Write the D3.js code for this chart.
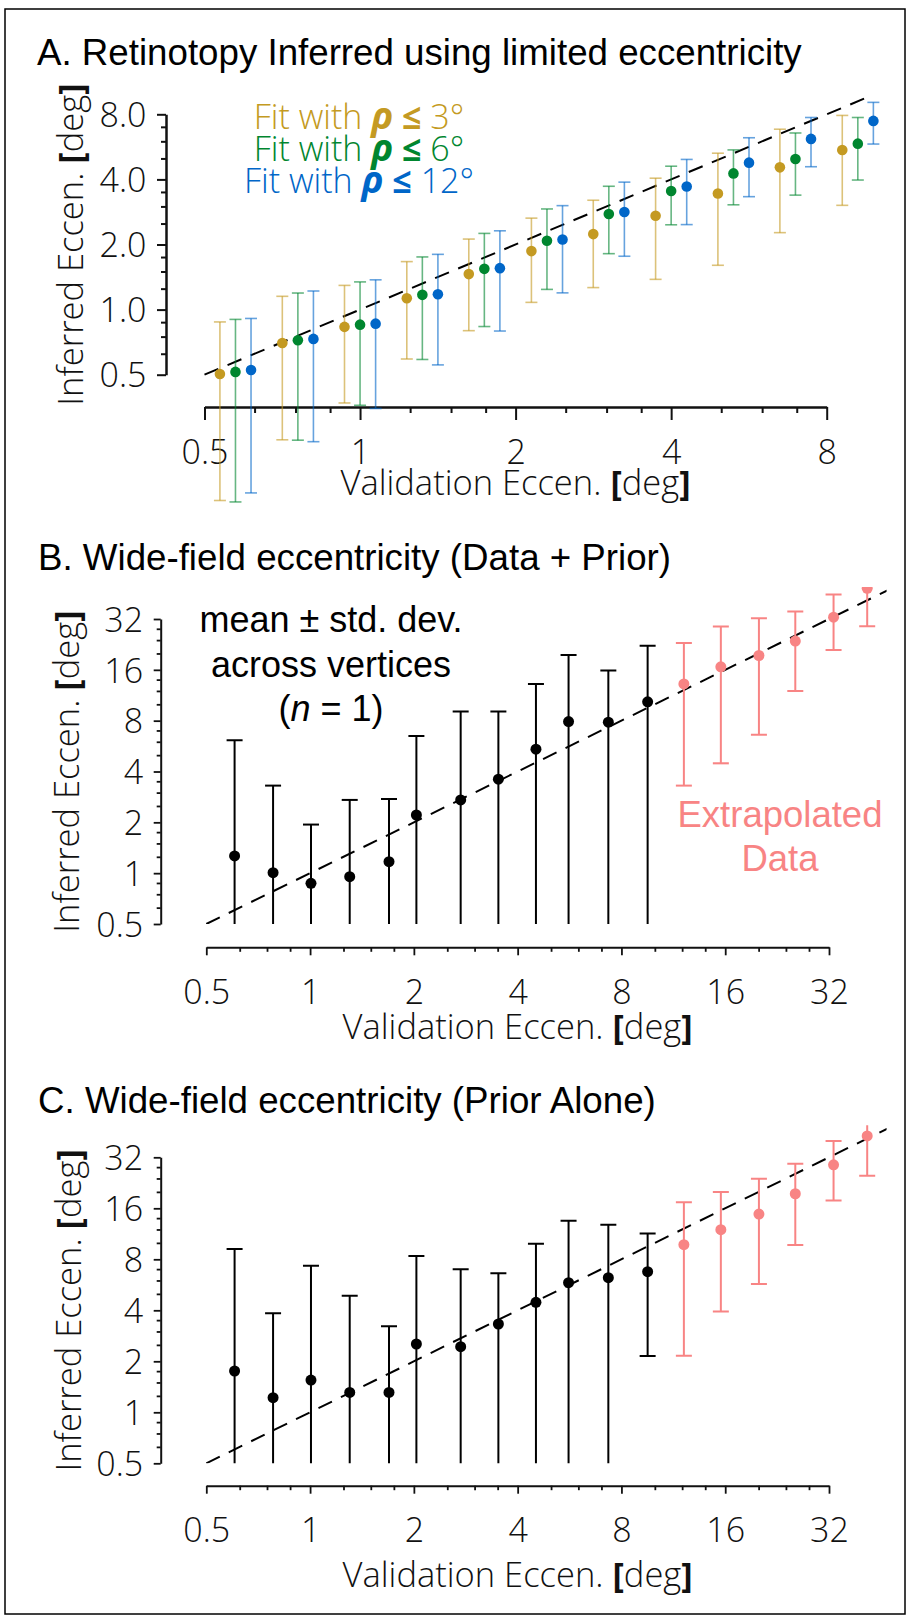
<!DOCTYPE html>
<html>
<head>
<meta charset="utf-8">
<script src="https://cdn.jsdelivr.net/npm/d3@7"></script>
<style>
  body { margin: 0; background: #fff; }
  svg { display: block; }
  .light { font-family: "Open Sans", Roboto, "Liberation Sans", Arial, sans-serif; font-weight: 300; }
  .reg { font-family: "Liberation Sans", Arial, Helvetica, sans-serif; font-weight: 400; }
</style>
</head>
<body>
<svg id="fig" width="908" height="1616"></svg>
<script>
// ---------- Panel A: fits restricted to limited eccentricity ----------
const fitLimits = ["3°", "6°", "12°"];
const fitColors = ["#C49A22", "#00862F", "#0066C8"];
// validation eccentricity of each bin [deg]
const binEcc = [0.574, 0.758, 1.00, 1.32, 1.74, 2.30, 3.03, 4.00, 5.28, 6.96, 9.19];
// mean and std. dev. of inferred eccentricity for each fit
const fit3Mean  = [0.504, 0.701, 0.832, 1.129, 1.459, 1.864, 2.234, 2.716, 3.445, 4.547, 5.470];
const fit3Sd    = [0.373, 0.451, 0.462, 0.538, 0.660, 0.784, 0.970, 1.336, 1.842, 2.278, 2.435];
const fit6Mean  = [0.515, 0.721, 0.852, 1.170, 1.543, 2.080, 2.766, 3.535, 4.264, 4.970, 5.853];
const fit6Sd    = [0.386, 0.472, 0.491, 0.582, 0.708, 0.840, 0.952, 1.068, 1.212, 1.587, 1.880];
const fit12Mean = [0.526, 0.732, 0.861, 1.178, 1.555, 2.110, 2.825, 3.710, 4.780, 6.155, 7.456];
const fit12Sd   = [0.384, 0.487, 0.512, 0.623, 0.759, 0.915, 1.060, 1.238, 1.452, 1.577, 1.628];
const ticksA = [0.5, 1, 2, 4, 8];
const xTickLabelsA = ["0.5", "1", "2", "4", "8"];
const yTickLabelsA = ["0.5", "1.0", "2.0", "4.0", "8.0"];

// ---------- Panels B and C: wide-field eccentricity ----------
const wideEcc = [0.604, 0.781, 1.006, 1.303, 1.694, 2.034, 2.734, 3.517, 4.52, 5.62,
                 7.33, 9.53, 12.14, 15.54, 20.04, 25.55, 32.99, 41.3];
const measuredBins = 12; // bins beyond this are extrapolated
const dataPriorMean = [1.265, 1.007, 0.871, 0.953, 1.170, 2.210, 2.715, 3.600, 5.42, 7.90,
                       7.84, 10.34, 13.2, 16.67, 19.45, 23.7, 32.8, 48.6];
const dataPriorSd   = [4.865, 2.293, 1.069, 1.762, 1.580, 4.290, 6.345, 5.460, 7.78, 11.7,
                       8.01, 11.86, 9.9, 12.2, 12.85, 11.7, 11.85, 19.6];
const priorMean     = [1.753, 1.220, 1.550, 1.310, 1.310, 2.530, 2.440, 3.320, 4.46, 5.82,
                       6.23, 6.76, 9.76, 11.96, 14.8, 19.5, 28.9, 42.8];
const priorSd       = [7.45, 2.62, 5.78, 3.57, 1.91, 5.84, 4.54, 3.29, 5.43, 7.68,
                       6.57, 4.61, 7.6, 8.02, 9.09, 9.8, 11.1, 17.9];
const ticksWide = [0.5, 1, 2, 4, 8, 16, 32];
const tickLabelsWide = ["0.5", "1", "2", "4", "8", "16", "32"];
const measuredColor = "#000000";
const extrapColor = "#F88484";

const svg = d3.select("#fig");

// outer frame
svg.append("rect").attr("x", 5).attr("y", 9).attr("width", 900).attr("height", 1605)
  .attr("fill", "none").attr("stroke", "#000").attr("stroke-width", 1.5);

// minor ticks at 1.25, 1.5, 1.75 of each octave
function minorTicks(majors) {
  const out = [];
  for (let i = 0; i < majors.length - 1; i++) {
    const a = majors[i];
    out.push(a * 1.25, a * 1.5, a * 1.75);
  }
  return out;
}

function drawAxes(g, x, y, o) {
  // x axis
  const gx = g.append("g").attr("transform", `translate(0,${o.xAxisY})`)
    .call(d3.axisBottom(x).tickValues(o.xTicks).tickFormat((d, i) => o.xLabels[i])
      .tickSize(o.xMajor).tickSizeOuter(0));
  gx.select(".domain").attr("stroke-width", o.axisW);
  gx.selectAll(".tick line").attr("stroke-width", o.tickW);
  gx.selectAll(".tick text").attr("class", "light").attr("font-size", o.fs)
    .attr("fill", "#111").attr("y", o.xLabelDy).attr("dy", 0);
  g.append("g").attr("transform", `translate(0,${o.xAxisY})`)
    .call(d3.axisBottom(x).tickValues(minorTicks(o.xTicks)).tickFormat("")
      .tickSize(o.xMinor).tickSizeOuter(0))
    .call(s => s.select(".domain").remove())
    .call(s => s.selectAll(".tick line").attr("stroke-width", o.tickW));
  // y axis
  const gy = g.append("g").attr("transform", `translate(${o.yAxisX},0)`)
    .call(d3.axisLeft(y).tickValues(o.yTicks).tickFormat((d, i) => o.yLabels[i])
      .tickSize(o.yMajor).tickSizeOuter(0));
  gy.select(".domain").attr("stroke-width", o.axisW);
  gy.selectAll(".tick line").attr("stroke-width", o.tickW);
  gy.selectAll(".tick text").attr("class", "light").attr("font-size", o.fs)
    .attr("fill", "#111").attr("x", -o.yLabelDx).attr("dy", "0.36em");
  g.append("g").attr("transform", `translate(${o.yAxisX},0)`)
    .call(d3.axisLeft(y).tickValues(minorTicks(o.yTicks)).tickFormat("")
      .tickSize(o.yMinor).tickSizeOuter(0))
    .call(s => s.select(".domain").remove())
    .call(s => s.selectAll(".tick line").attr("stroke-width", o.tickW));
  g.selectAll(".domain, .tick line").attr("stroke", "#111");

  // axis titles with bold brackets
  const xt = g.append("text").attr("class", "light").attr("font-size", o.titleFs)
    .attr("text-anchor", "middle").attr("fill", "#111")
    .attr("x", (x.range()[0] + x.range()[1]) / 2).attr("y", o.xTitleY);
  addTitle(xt, "Validation Eccen. ");
  const yt = g.append("text").attr("class", "light").attr("font-size", o.titleFs)
    .attr("text-anchor", "middle").attr("fill", "#111")
    .attr("transform", `translate(${o.yTitleX},${(y.range()[0] + y.range()[1]) / 2}) rotate(-90)`);
  addTitle(yt, "Inferred Eccen. ");
}

function addTitle(t, main) {
  t.append("tspan").text(main);
  t.append("tspan").attr("font-weight", 700).text("[");
  t.append("tspan").text("deg");
  t.append("tspan").attr("font-weight", 700).text("]");
}

function panelTitle(text, x, y) {
  svg.append("text").attr("class", "reg").attr("font-size", 36.7).attr("fill", "#000")
    .attr("x", x).attr("y", y).text(text);
}

function identityLine(g, x, y, lo, hi) {
  g.append("line")
    .attr("x1", x(lo)).attr("y1", y(lo)).attr("x2", x(hi)).attr("y2", y(hi))
    .attr("stroke", "#000").attr("stroke-width", 2).attr("stroke-dasharray", "15,10");
}

// ================= Panel A =================
panelTitle("A. Retinotopy Inferred using limited eccentricity", 37, 65);
const xA = d3.scaleLog().domain([0.5, 8]).range([204.5, 826.7]);
const yA = d3.scaleLog().domain([0.5, 8]).range([374.7, 114.3]);
const gA = svg.append("g");
drawAxes(gA, xA, yA, {
  xAxisY: 407, yAxisX: 166, xTicks: ticksA, yTicks: ticksA,
  xLabels: xTickLabelsA, yLabels: yTickLabelsA,
  xMajor: 13, xMinor: 6, yMajor: 9, yMinor: 5, axisW: 2.5, tickW: 2,
  fs: 34, titleFs: 34.5, xLabelDy: 57, yLabelDx: 19.5, xTitleY: 495, yTitleX: 83
});
identityLine(gA, xA, yA, 0.5, 9.55);

const dodge = (xA(1) - xA(0.5)) * 0.1;
const fits = [
  { mean: fit3Mean, sd: fit3Sd },
  { mean: fit6Mean, sd: fit6Sd },
  { mean: fit12Mean, sd: fit12Sd }
];
fits.forEach((f, k) => {
  const col = fitColors[k];
  const off = (k - 1) * dodge;
  const rows = binEcc.map((e, i) => ({ e, m: f.mean[i], s: f.sd[i] }));
  const gb = gA.append("g").attr("stroke", col).attr("stroke-width", 1.6).attr("stroke-opacity", 0.6);
  rows.forEach(r => {
    const cx = xA(r.e) + off;
    const top = yA(r.m + r.s), bot = yA(r.m - r.s);
    gb.append("line").attr("x1", cx).attr("x2", cx).attr("y1", top).attr("y2", bot);
    gb.append("line").attr("x1", cx - 6).attr("x2", cx + 6).attr("y1", top).attr("y2", top);
    gb.append("line").attr("x1", cx - 6).attr("x2", cx + 6).attr("y1", bot).attr("y2", bot);
  });
  gA.append("g").selectAll("circle").data(rows).join("circle")
    .attr("cx", r => xA(r.e) + off).attr("cy", r => yA(r.m)).attr("r", 5.3).attr("fill", col);
});

// legend
const legendY = [128.5, 160.5, 193];
fitLimits.forEach((lim, k) => {
  const t = gA.append("text").attr("class", "light").attr("font-size", 34)
    .attr("text-anchor", "middle").attr("fill", fitColors[k]).attr("x", 359).attr("y", legendY[k]);
  t.append("tspan").text("Fit with ");
  t.append("tspan").attr("font-weight", 700).attr("font-style", "italic").attr("font-size", 37).text("ρ");
  t.append("tspan").attr("font-weight", 700).text(" ≤");
  t.append("tspan").text(" " + lim);
});

// ================= Panels B and C =================
function widePanel(title, titleY, yRange, xAxisY, yTitleX, means, sds, xTitleY, clipId) {
  panelTitle(title, 38, titleY);
  const x = d3.scaleLog().domain([0.5, 32]).range([206.3, 829]);
  const y = d3.scaleLog().domain([0.5, 32]).range(yRange);
  const g = svg.append("g");
  drawAxes(g, x, y, {
    xAxisY, yAxisX: 160.7, xTicks: ticksWide, yTicks: ticksWide,
    xLabels: tickLabelsWide, yLabels: tickLabelsWide,
    xMajor: 8, xMinor: 4.5, yMajor: 7, yMinor: 4, axisW: 2, tickW: 1.8,
    fs: 34, titleFs: 34.5, xLabelDy: 56.5, yLabelDx: 17.5, xTitleY, yTitleX
  });
  // plotting area: data clipped to [0.5, ~48] deg
  svg.append("clipPath").attr("id", clipId).append("rect")
    .attr("x", x(0.5) - 20).attr("y", y(49.5))
    .attr("width", x(47) - x(0.5) + 20).attr("height", y(0.5) - y(49.5));
  const gp = g.append("g").attr("clip-path", `url(#${clipId})`);
  identityLine(gp, x, y, 0.5, 60);
  const rows = wideEcc.map((e, i) => ({
    e, m: means[i], s: sds[i], col: i < measuredBins ? measuredColor : extrapColor
  }));
  rows.forEach(r => {
    const cx = x(r.e);
    const top = y(r.m + r.s);
    const bot = y(Math.max(r.m - r.s, 0.2));
    const gb = gp.append("g").attr("stroke", r.col).attr("stroke-width", 2);
    gb.append("line").attr("x1", cx).attr("x2", cx).attr("y1", top).attr("y2", bot);
    gb.append("line").attr("x1", cx - 8).attr("x2", cx + 8).attr("y1", top).attr("y2", top);
    gb.append("line").attr("x1", cx - 8).attr("x2", cx + 8).attr("y1", bot).attr("y2", bot);
  });
  gp.append("g").selectAll("circle").data(rows).join("circle")
    .attr("cx", r => x(r.e)).attr("cy", r => y(r.m)).attr("r", 5.5).attr("fill", r => r.col);
  return g;
}

const gB = widePanel("B. Wide-field eccentricity (Data + Prior)", 570, [924, 619], 947.3, 79,
  dataPriorMean, dataPriorSd, 1039, "clipB");

// annotation for panel B
const note = gB.append("text").attr("class", "reg").attr("font-size", 36).attr("fill", "#000")
  .attr("text-anchor", "middle");
note.append("tspan").attr("x", 331).attr("y", 631.5).text("mean ± std. dev.");
note.append("tspan").attr("x", 331).attr("y", 676.5).text("across vertices");
const l3 = note.append("tspan").attr("x", 331).attr("y", 721);
l3.text("(");
note.append("tspan").attr("font-style", "italic").text("n");
note.append("tspan").text(" = 1)");

const ex = gB.append("text").attr("class", "reg").attr("font-size", 36.5).attr("fill", extrapColor)
  .attr("text-anchor", "middle");
ex.append("tspan").attr("x", 780).attr("y", 826.5).text("Extrapolated");
ex.append("tspan").attr("x", 780).attr("y", 870.5).text("Data");

widePanel("C. Wide-field eccentricity (Prior Alone)", 1113, [1463.3, 1157.3], 1485.7, 81,
  priorMean, priorSd, 1587, "clipC");
</script>
</body>
</html>
